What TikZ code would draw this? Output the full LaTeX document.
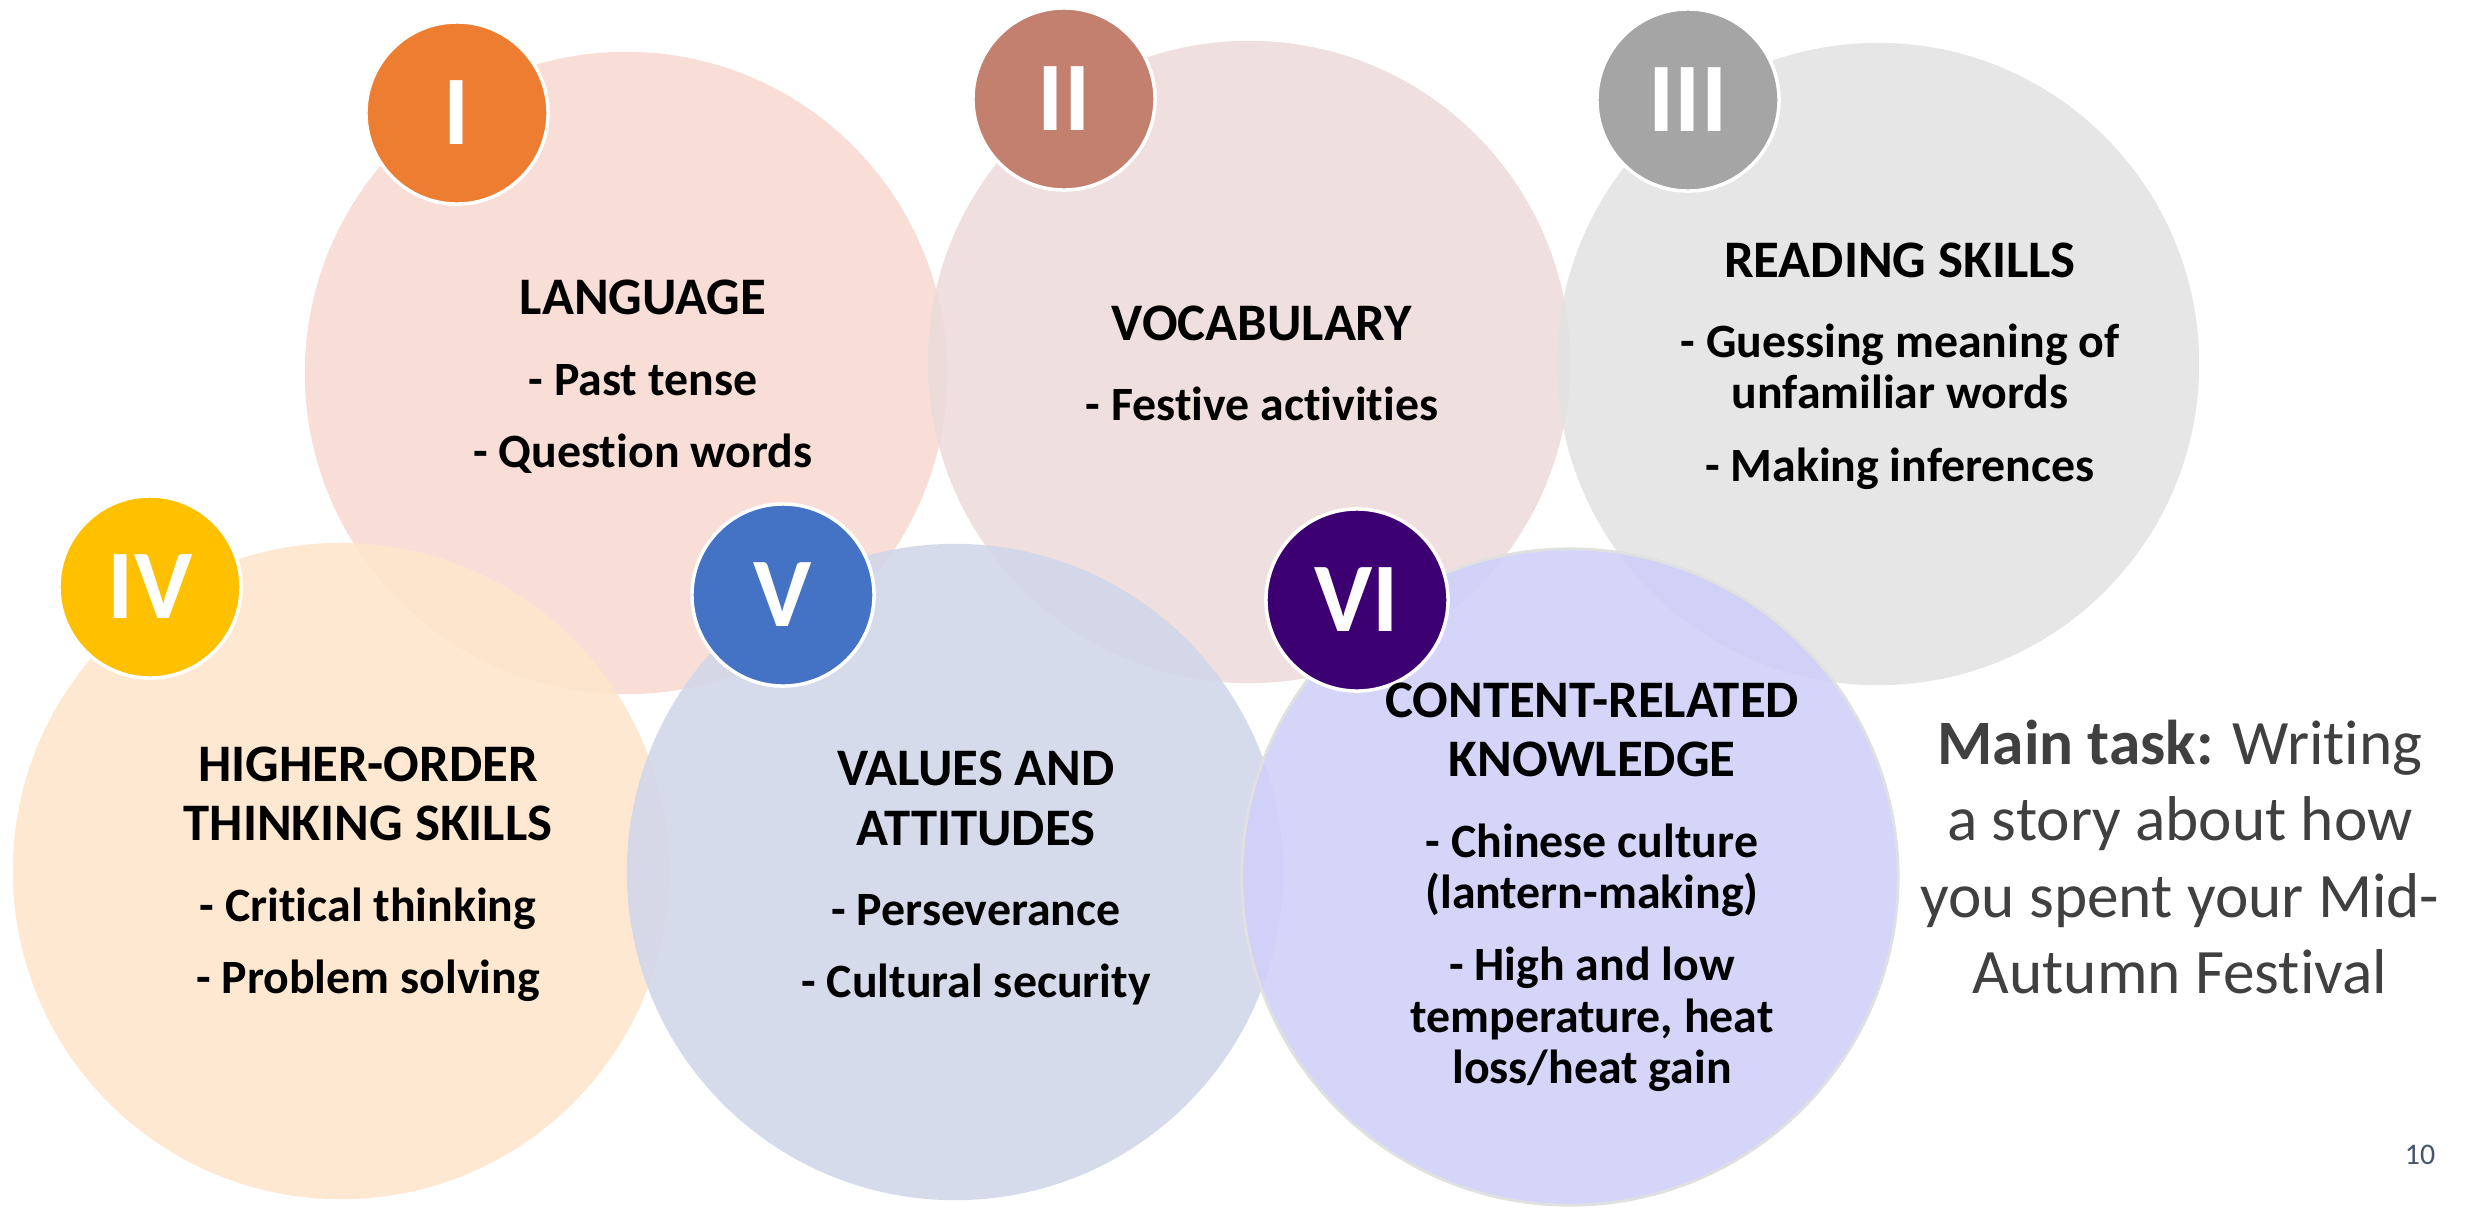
\documentclass[tikz,border=0pt]{standalone}
\usepackage{fontspec}
\setmainfont{Carlito}[Ligatures={NoCommon}]
\usepackage{tikz}
\usetikzlibrary{positioning}
\definecolor{langpink}{HTML}{F7DAD3}
\definecolor{vocabrose}{HTML}{EDDCDB}
\definecolor{readgray}{HTML}{E3E3E3}
\definecolor{hotspeach}{HTML}{FEE6CC}
\definecolor{valuesblue}{HTML}{D2D7EA}
\definecolor{contentlav}{HTML}{D0D0FA}
\definecolor{numorange}{HTML}{ED7D31}
\definecolor{numrose}{HTML}{C4806F}
\definecolor{numgray}{HTML}{A5A5A5}
\definecolor{numgold}{HTML}{FFC000}
\definecolor{numblue}{HTML}{4472C4}
\definecolor{numpurple}{HTML}{3D0073}
\definecolor{taskgray}{HTML}{404040}
\definecolor{pagenum}{HTML}{44546A}
\newcommand{\heading}[1]{{\fontsize{15}{15.6}\selectfont #1}}

\begin{document}
\begin{tikzpicture}[
        x=0.01cm, y=-0.01cm,
        every node/.style={align=center, anchor=center},
        bubble/.style={circle, fill=#1, fill opacity=0.9, inner sep=0pt,
                       minimum size=6.42cm},
        bubblelo/.style={bubble=#1, minimum size=6.56cm},
        badge/.style={circle, fill=#1, draw=white, line width=1pt, inner sep=0pt,
                      minimum size=1.82cm, text=white,
                      font=\fontsize{28}{28}\selectfont\bfseries},
        topic/.style={text=black, font=\fontsize{13.6}{14.6}\selectfont\bfseries},
        task/.style={text=taskgray, font=\fontsize{18}{21.8}\selectfont}
    ]
        \useasboundingbox (0,0) rectangle (2468,1208);

        % top row
        \node[bubble=langpink]   (lang)  at (626,373)  {};
        \node[bubble=vocabrose]  (vocab) at (1249,362) {};
        \node[bubble=readgray]   (read)  at (1878,364) {};

        % bottom row
        \node[bubblelo=hotspeach]  (hots)    at (341,871)  {};
        \node[bubblelo=valuesblue] (values)  at (955,872)  {};
        \node[bubblelo=contentlav, draw=black!12, line width=0.8pt] (content) at (1570,877) {};

        \node[badge=numorange] (one)   at (457,113)  {I};
        \node[badge=numrose]   (two)   at (1064,99)  {II};
        \node[badge=numgray]   (three) at (1688,100) {III};
        \node[badge=numgold]   (four)  at (150,587)  {IV};
        \node[badge=numblue]   (five)  at (783,595)  {V};
        \node[badge=numpurple] (six)   at (1357,600) {VI};

        \node[topic] (langtxt) at (643,377)
            {\heading{LANGUAGE}\\[8.2pt] - Past tense\\[6pt] - Question words};
        \node[topic] (vocabtxt) at (1262,363)
            {\heading{VOCABULARY}\\[8.2pt] - Festive activities};
        \node[topic] (readtxt) at (1900,366)
            {\heading{READING SKILLS}\\[8.2pt] - Guessing meaning of\\ unfamiliar words\\[6pt] - Making inferences};
        \node[topic] (hotstxt) at (368,874)
            {\heading{HIGHER-ORDER}\\[2.4pt] \heading{THINKING SKILLS}\\[8.2pt] - Critical thinking\\[6pt] - Problem solving};
        \node[topic] (valuestxt) at (976,878)
            {\heading{VALUES AND}\\[2.4pt] \heading{ATTITUDES}\\[8.2pt] - Perseverance\\[6pt] - Cultural security};
        \node[topic] (contenttxt) at (1592,887)
            {\heading{CONTENT-RELATED}\\[2.4pt] \heading{KNOWLEDGE}\\[8.2pt] - Chinese culture\\ (lantern-making)\\[6pt] - High and low\\ temperature, heat\\ loss/heat gain};

        \node[task] (maintask) at (2180,857)
            {\textbf{Main task:} Writing\\ a story about how\\ you spent your Mid-\\ Autumn Festival};

        \node[text=pagenum, font=\fontsize{8.5}{10}\selectfont] (page) at (2420,1155) {10};
    \end{tikzpicture}
\end{document}
